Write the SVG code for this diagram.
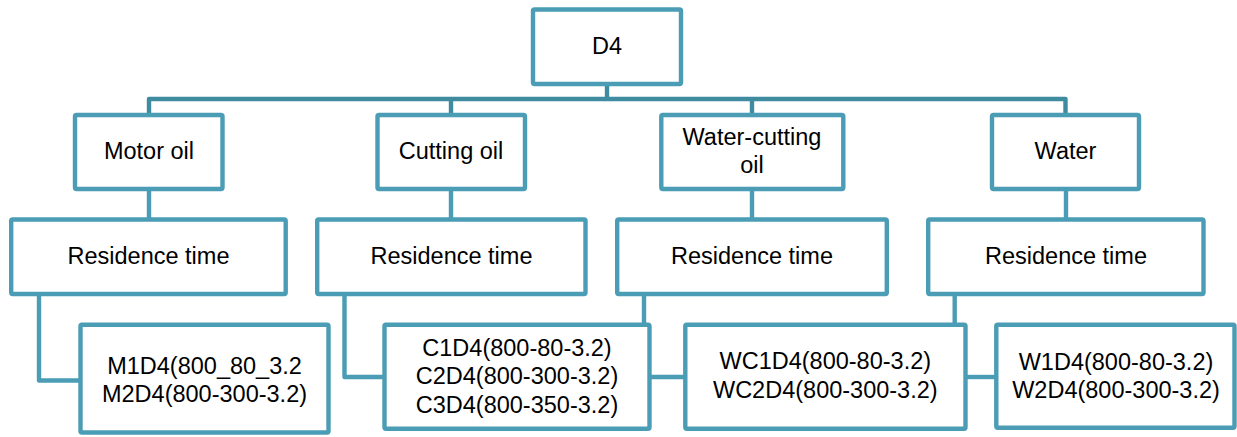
<svg xmlns="http://www.w3.org/2000/svg" width="1237" height="437" viewBox="0 0 1237 437">
<style>
.box{fill:#ffffff;stroke:#4a9db5;stroke-width:4.4;stroke-linejoin:round}
.bus{fill:none;stroke:#3f8b9f;stroke-width:4.4;stroke-linejoin:round}
.con{fill:none;stroke:#4a9db5;stroke-width:4.4;stroke-linejoin:round}
text{font-family:"Liberation Sans",Arial,sans-serif;font-size:23.5px;fill:#000;text-anchor:middle}
</style>
<rect width="1237" height="437" fill="#ffffff"/>
<g id="connectors">
<path class="bus" d="M607,84 V99"/>
<path class="bus" d="M149,115 V99 H1065.5 V115"/>
<path class="bus" d="M451,99 V115 M752,99 V115"/>
<path class="con" d="M149,189 V219.5 M451,189 V219.5 M752,189 V219.5 M1066,189 V219.5"/>
<path class="con" d="M39,294 V380.5 H80.5"/>
<path class="con" d="M344.5,294 V377 H384.5"/>
<path class="con" d="M644,294 V324.7"/>
<path class="con" d="M954.7,294 V324.7"/>
<path class="con" d="M649.5,377 H685.3"/>
<path class="con" d="M965.5,377 H996.3"/>
</g>
<g id="d4"><rect class="box" x="533" y="9.5" width="148" height="74.5" rx="1.5"/><text x="607" y="54">D4</text></g>
<g id="motor-oil"><rect class="box" x="75" y="115" width="147.5" height="74" rx="1.5"/><text x="149" y="159">Motor oil</text></g>
<g id="cutting-oil"><rect class="box" x="377.5" y="115" width="147.5" height="74" rx="1.5"/><text x="451" y="159">Cutting oil</text></g>
<g id="water-cutting-oil"><rect class="box" x="661.3" y="115" width="182" height="74" rx="1.5"/><text x="752" y="145">Water-cutting</text><text x="752" y="173">oil</text></g>
<g id="water"><rect class="box" x="992" y="115" width="147" height="74" rx="1.5"/><text x="1065.5" y="159">Water</text></g>
<g id="rt-motor"><rect class="box" x="11.2" y="219.5" width="274.5" height="74.5" rx="1.5"/><text x="148.5" y="263.5">Residence time</text></g>
<g id="rt-cutting"><rect class="box" x="317.2" y="219.5" width="268.3" height="74.5" rx="1.5"/><text x="451.5" y="263.5">Residence time</text></g>
<g id="rt-water-cutting"><rect class="box" x="617.2" y="219.5" width="269.6" height="74.5" rx="1.5"/><text x="752" y="263.5">Residence time</text></g>
<g id="rt-water"><rect class="box" x="928.2" y="219.5" width="275.3" height="74.5" rx="1.5"/><text x="1066" y="263.5">Residence time</text></g>
<g id="m-samples"><rect class="box" x="80.5" y="324.7" width="248" height="107.8" rx="1.5"/><text x="204.5" y="374">M1D4(800_80_3.2</text><text x="204.5" y="402">M2D4(800-300-3.2)</text></g>
<g id="c-samples"><rect class="box" x="384.5" y="324.7" width="265" height="104" rx="1.5"/><text x="517" y="356">C1D4(800-80-3.2)</text><text x="517" y="384.3">C2D4(800-300-3.2)</text><text x="517" y="412.7">C3D4(800-350-3.2)</text></g>
<g id="wc-samples"><rect class="box" x="685.3" y="324.7" width="280.2" height="104" rx="1.5"/><text x="825.3" y="369">WC1D4(800-80-3.2)</text><text x="825.3" y="397.5">WC2D4(800-300-3.2)</text></g>
<g id="w-samples"><rect class="box" x="996.3" y="324.7" width="238.2" height="103" rx="1.5"/><text x="1116" y="370">W1D4(800-80-3.2)</text><text x="1116" y="398">W2D4(800-300-3.2)</text></g>
</svg>
